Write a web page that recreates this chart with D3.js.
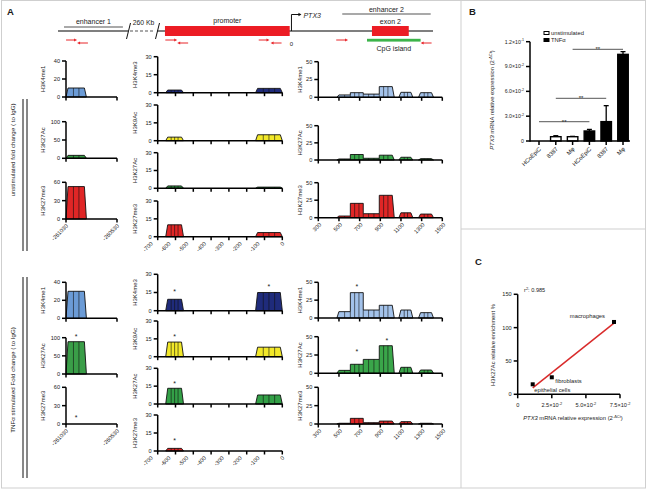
<!DOCTYPE html>
<html><head><meta charset="utf-8">
<script src="https://cdn.jsdelivr.net/npm/d3@7"></script>
<style>
body{margin:0;background:#fff}
svg{display:block}
text{font-family:"Liberation Sans",Arial,sans-serif;fill:#1a1a1a}
</style>
</head><body>
<svg id="chart" width="647" height="489"></svg>
<script>
// ================= DATA =================
const marksCol1 = ["H3K4me1","H3K27Ac","H3K27me3"];
const marksCol2 = ["H3K4me3","H3K9Ac","H3K27Ac","H3K27me3"];
const marksCol3 = ["H3K4me1","H3K27Ac","H3K27me3"];

const col1Groups = [[-261030,-260830]];
const col1Cells  = [3];
const col2Groups = [[-655,-555],[-150,0]];
const col2Cells  = [4,4];
const col3Groups = [[480,610,735,890,1035],[1080,1215],[1270,1415]];
const col3Cells  = [2,3,3,3,3,3];

const col1XTicks = [-261030,-260530];
const col2XTicks = [-700,-600,-500,-400,-300,-200,-100,0];
const col3XTicks = [300,500,700,900,1100,1300,1500];

const col1YTicks = [[0,20,40],[0,50,100],[0,30,60]];
const col2YTicks = [0,15,30];
const col3YTicks = [0,25,50];

const unstimCol1 = [[10],[8],[53]];
const unstimCol2 = [[2.2,3.6],[3,5],[2,1],[10,3.5]];
const unstimCol3 = [[3.3,6.5,4.5,15,7,6.5],[1.5,8,2.5,7,4,2],[2.4,20.5,5.7,32,7,5.2]];
const tnfCol1 = [[30],[89],[0]];
const tnfCol2 = [[9.4,15],[12.3,8],[13.2,7.6],[2.2,0]];
const tnfCol3 = [[8.9,35.5,11.2,17.8,11.2,7.5],[4,12.3,19,37.7,8.2,4.5],[1,7.7,1.8,4,3.2,1]];

const tnfStarsCol1 = [[1,0,107],[2,0,13]];
const tnfStarsCol2 = [[0,0,17],[0,1,21],[1,0,17.4],[2,0,17.9],[3,0,9.8]];
const tnfStarsCol3 = [[0,1,46],[1,1,31.8],[1,3,46]];

const locusLeft = [-261140,-260740];
const locusRight = [-760,800];
const enhancer1Region = [-261106,-260769];
const enhancer2Region = [287,787];
const promoterRegion = [-715,-10];
const exon2Region = [455,663];
const cpgIsland = [427,730];
const primersForward = [[-261094,-261031],[-713,-646],[-185,-124],[253,320]];
const primersReverse = [[-261031,-260969],[-646,-584],[-118,-56],[730,792]];

const bCategories = ["HCoEpiC","8387","Mφ","HCoEpiC","8387","Mφ"];
const bCondition  = ["unstimulated","unstimulated","unstimulated","TNFα","TNFα","TNFα"];
const bValues     = [0,0.0052,0.0052,0.0121,0.0234,0.1047];
const bErrors     = [0,0.0012,0.0004,0.0019,0.0193,0.0033];
const bYTicks     = [0,0.03,0.06,0.09,0.12];
const bYTickLabels= [["0",""],["3.0×10","-2"],["6.0×10","-2"],["9.0×10","-2"],["1.2×10","-1"]];
const bSignif     = [[0,3,0.0233],[1,4,0.0516],[2,5,0.1108]];

const cLabels = ["epithelial cells","fibroblasts","macrophages"];
const cX = [0.011,0.025,0.0706];
const cY = [15,25.5,108.5];
const cXTicks = [0,0.025,0.05,0.075];
const cXTickLabels = [["0",""],["2.5×10","-2"],["5.0×10","-2"],["7.5×10","-2"]];
const cYTicks = [0,50,100,150];

// ================= LAYOUT =================
const svg = d3.select("#chart");
const FS = 5.6;
const colLayout = [
  {range:[66,117], domain:[-261030,-260530], titleX:43, ticks:col1XTicks, groups:col1Groups, cells:col1Cells, marks:marksCol1,
   colors:["#6b9bd6","#3a9e48","#e02626"], labelDx:1},
  {range:[157.7,282.3], domain:[-700,0], titleX:135, ticks:col2XTicks, groups:col2Groups, cells:col2Cells, marks:marksCol2,
   colors:["#1f2b7b","#f2e829","#33a047","#e02626"], labelDx:-6},
  {range:[318.3,442.3], domain:[300,1500], titleX:300, ticks:col3XTicks, groups:col3Groups, cells:col3Cells, marks:marksCol3,
   colors:["#a3c2ea","#3aa64a","#e02626"], labelDx:2}
];
const rowsUnstim = [
  [[61,97],[121.7,158.3],[182.3,219]],
  [[56.7,92.7],[105,140.7],[152.7,188.3],[201,236.7]],
  [[61.7,97.3],[125.7,160],[182.7,217.7]]
];
const rowsTnf = [
  [[282.3,318.3],[337.7,374],[387.3,424]],
  [[274.3,310.7],[321,356.7],[368.3,404],[415,451]],
  [[282.3,318],[336.7,373.3],[387.3,424]]
];

svg.append("rect").attr("x",1.5).attr("y",0.5).attr("width",644).attr("height",487.5)
  .attr("fill","none").attr("stroke","#cfcfcf");
svg.append("line").attr("x1",461).attr("x2",461).attr("y1",0).attr("y2",488).attr("stroke","#cfcfcf");
svg.append("line").attr("x1",461).attr("x2",646).attr("y1",229).attr("y2",229).attr("stroke","#cfcfcf");

function panelLetter(t,x,y){
  svg.append("text").attr("x",x).attr("y",y).attr("font-size",9.5).attr("font-weight","bold").text(t);
}
panelLetter("A",7,15); panelLetter("B",469,15); panelLetter("C",475,265);

const sx = d3.scaleLinear().domain([locusLeft[0],locusLeft[1],locusRight[0],locusRight[1]]).range([58,128,157,433]);
const sch = svg.append("g");
const lineCol = "#555";
sch.append("line").attr("x1",sx(locusLeft[0])).attr("x2",sx(locusLeft[1])).attr("y1",31).attr("y2",31).attr("stroke",lineCol).attr("stroke-width",1.3);
sch.append("line").attr("x1",sx(locusLeft[1])+2).attr("x2",sx(locusRight[0])-2).attr("y1",31).attr("y2",31).attr("stroke",lineCol).attr("stroke-width",1.1).attr("stroke-dasharray","3,2");
sch.append("line").attr("x1",sx(locusRight[0])).attr("x2",sx(locusRight[1])).attr("y1",31).attr("y2",31).attr("stroke",lineCol).attr("stroke-width",1.3);
[locusLeft[1],locusRight[0]].forEach(v=>{
  sch.append("line").attr("x1",sx(v)-1.5).attr("y1",39).attr("x2",sx(v)+2.5).attr("y2",23).attr("stroke","#111").attr("stroke-width",1);
});
sch.append("text").attr("x",(sx(locusLeft[1])+sx(locusRight[0]))/2+1).attr("y",24.5).attr("font-size",6.8).attr("text-anchor","middle").text("260 Kb");
sch.append("line").attr("x1",sx(enhancer1Region[0])).attr("x2",sx(enhancer1Region[1])).attr("y1",27).attr("y2",27).attr("stroke","#555").attr("stroke-width",1.2);
sch.append("text").attr("x",(sx(enhancer1Region[0])+sx(enhancer1Region[1]))/2).attr("y",24).attr("font-size",7).attr("text-anchor","middle").text("enhancer 1");
sch.append("line").attr("x1",sx(enhancer2Region[0])).attr("x2",sx(enhancer2Region[1])).attr("y1",14).attr("y2",14).attr("stroke","#555").attr("stroke-width",1.2);
sch.append("text").attr("x",(sx(enhancer2Region[0])+sx(enhancer2Region[1]))/2).attr("y",11.5).attr("font-size",7).attr("text-anchor","middle").text("enhancer 2");
sch.append("rect").attr("x",sx(promoterRegion[0])).attr("width",sx(promoterRegion[1])-sx(promoterRegion[0])).attr("y",26).attr("height",10).attr("fill","#ec1c24");
sch.append("text").attr("x",(sx(promoterRegion[0])+sx(promoterRegion[1]))/2).attr("y",22.5).attr("font-size",7).attr("text-anchor","middle").text("promoter");
sch.append("rect").attr("x",sx(exon2Region[0])).attr("width",sx(exon2Region[1])-sx(exon2Region[0])).attr("y",26).attr("height",10).attr("fill","#ec1c24");
sch.append("text").attr("x",(sx(exon2Region[0])+sx(exon2Region[1]))/2).attr("y",23.5).attr("font-size",7).attr("text-anchor","middle").text("exon 2");
sch.append("rect").attr("x",sx(cpgIsland[0])).attr("width",sx(cpgIsland[1])-sx(cpgIsland[0])).attr("y",38.8).attr("height",2.8).attr("fill","#3cb44a");
sch.append("text").attr("x",(sx(cpgIsland[0])+sx(cpgIsland[1]))/2).attr("y",51).attr("font-size",7).attr("text-anchor","middle").text("CpG island");
const tss = sx(0);
sch.append("path").attr("d",`M${tss},31 V14.5 H${tss+8}`).attr("fill","none").attr("stroke","#111").attr("stroke-width",1);
sch.append("path").attr("d",`M${tss+10},14.5 l-3,-1.8 v3.6 z`).attr("fill","#111");
sch.append("text").attr("x",tss+12).attr("y",17.5).attr("font-size",7).attr("font-style","italic").text("PTX3");
sch.append("text").attr("x",tss).attr("y",45.5).attr("font-size",6).attr("text-anchor","middle").text("0");
const red = "#e8262b";
primersForward.forEach(p=>{
  const a=sx(p[0]), b=sx(p[1]);
  sch.append("line").attr("x1",a).attr("x2",b-2).attr("y1",40).attr("y2",40).attr("stroke",red).attr("stroke-width",1);
  sch.append("path").attr("d",`M${b},40 l-3,-1.6 v3.2 z`).attr("fill",red);
});
primersReverse.forEach(p=>{
  const a=sx(p[0]), b=sx(p[1]);
  sch.append("line").attr("x1",a+2).attr("x2",b).attr("y1",43).attr("y2",43).attr("stroke",red).attr("stroke-width",1);
  sch.append("path").attr("d",`M${a},43 l3,-1.6 v3.2 z`).attr("fill",red);
});

function drawPanel(g, col, yr, yTicks, vals, color, title, showLabels, stars, panelIdx){
  const x = d3.scaleLinear().domain(col.domain).range(col.range);
  const y = d3.scaleLinear().domain([0, yTicks[yTicks.length-1]]).range([yr[1], yr[0]]);
  const slant = 2;
  let k = 0;
  const segCenters = [];
  col.groups.forEach(bounds=>{
    const segs=[];
    for(let i=0;i<bounds.length-1;i++){ segs.push({x0:bounds[i],x1:bounds[i+1],v:vals[k],n:col.cells[k]}); segCenters.push((bounds[i]+bounds[i+1])/2); k++; }
    if(d3.max(segs,s=>s.v)<=0) return;
    const pts=[[x(segs[0].x0),y(0)],[x(segs[0].x0)+slant,y(segs[0].v)]];
    segs.forEach((s,i)=>{
      if(i>0) pts.push([x(s.x0),y(s.v)]);
      pts.push([i===segs.length-1 ? x(s.x1)-slant : x(s.x1), y(s.v)]);
    });
    pts.push([x(segs[segs.length-1].x1),y(0)]);
    g.append("path").attr("d",d3.line()(pts)+"Z").attr("fill",color).attr("stroke","#111").attr("stroke-width",0.9).attr("stroke-linejoin","round");
    segs.forEach((s,i)=>{
      const a = i===0 ? x(s.x0)+slant : x(s.x0);
      const b = i===segs.length-1 ? x(s.x1)-slant : x(s.x1);
      for(let j=1;j<s.n;j++){
        const xx = a+(b-a)*j/s.n;
        g.append("line").attr("x1",xx).attr("x2",xx).attr("y1",y(0)).attr("y2",y(s.v)).attr("stroke","#111").attr("stroke-width",0.6);
      }
      if(i>0){
        const xx=x(s.x0);
        g.append("line").attr("x1",xx).attr("x2",xx).attr("y1",y(0)).attr("y2",y(Math.min(s.v,segs[i-1].v))).attr("stroke","#111").attr("stroke-width",0.6);
      }
    });
  });
  const ax = g.append("g").attr("stroke","#000").attr("stroke-width",1.5).attr("fill","none");
  ax.append("line").attr("x1",col.range[0]).attr("x2",col.range[0]).attr("y1",y(0)+0.75).attr("y2",y.range()[1]);
  ax.append("line").attr("x1",col.range[0]).attr("x2",col.range[1]).attr("y1",y(0)).attr("y2",y(0));
  yTicks.forEach(t=>{
    ax.append("line").attr("x1",col.range[0]-4).attr("x2",col.range[0]).attr("y1",y(t)).attr("y2",y(t));
    g.append("text").attr("x",col.range[0]-6).attr("y",y(t)).attr("dy","0.35em").attr("text-anchor","end").attr("font-size",FS).text(t);
  });
  col.ticks.forEach(t=>{
    ax.append("line").attr("x1",x(t)).attr("x2",x(t)).attr("y1",y(0)).attr("y2",y(0)+3.5);
    if(showLabels){
      g.append("text").attr("transform",`translate(${x(t)+(t===0?1:col.labelDx)},${y(0)+6}) rotate(-45)`)
        .attr("text-anchor","end").attr("dy","0.35em").attr("font-size",FS).text(t);
    }
  });
  g.append("text").attr("transform",`translate(${col.titleX},${(yr[0]+yr[1])/2}) rotate(-90)`)
    .attr("text-anchor","middle").attr("dy","0.35em").attr("font-size",6).text(title);
  (stars||[]).filter(s=>s[0]===panelIdx).forEach(s=>{
    g.append("text").attr("x",x(segCenters[s[1]])).attr("y",y(s[2])+3.5).attr("text-anchor","middle").attr("font-size",7).text("*");
  });
}

function drawBlock(rows, dataCols, starsCols){
  colLayout.forEach((col,ci)=>{
    const g = svg.append("g");
    col.marks.forEach((m,pi)=>{
      const yt = ci===0 ? col1YTicks[pi] : (ci===1 ? col2YTicks : col3YTicks);
      drawPanel(g, col, rows[ci][pi], yt, dataCols[ci][pi], col.colors[pi], m, pi===col.marks.length-1, starsCols[ci], pi);
    });
  });
}
drawBlock(rowsUnstim, [unstimCol1, unstimCol2, unstimCol3], [[],[],[]]);
drawBlock(rowsTnf, [tnfCol1, tnfCol2, tnfCol3], [tnfStarsCol1, tnfStarsCol2, tnfStarsCol3]);

function rowLabel(text, y0, y1, cy){
  svg.append("line").attr("x1",23).attr("x2",23).attr("y1",y0).attr("y2",y1).attr("stroke","#111").attr("stroke-width",1);
  svg.append("line").attr("x1",27).attr("x2",27).attr("y1",y0).attr("y2",y1).attr("stroke","#111").attr("stroke-width",1);
  svg.append("text").attr("transform",`translate(13,${cy}) rotate(-90)`).attr("text-anchor","middle").attr("dy","0.35em").attr("font-size",6.2).text(text);
}
rowLabel("unstimulated fold change ( to IgG)", 99, 251, 150);
rowLabel("TNFα stimulated Fold change ( to IgG)", 277, 478, 380);

function supLabel(sel, parts, size){
  sel.text(null);
  sel.append("tspan").text(parts[0]);
  if(parts[1]) sel.append("tspan").attr("dy",-2.2).attr("font-size",size*0.7).text(parts[1]);
}
const gB = svg.append("g");
const bx = d3.scalePoint().domain(d3.range(bCategories.length)).range([539,623]);
const by = d3.scaleLinear().domain([0,0.12]).range([141,41.7]);
const bw = 10.5;
bValues.forEach((v,i)=>{
  if(v<=0) return;
  const tnf = bCondition[i]==="TNFα";
  const top = by(v+bErrors[i]);
  gB.append("line").attr("x1",bx(i)).attr("x2",bx(i)).attr("y1",by(v)).attr("y2",top).attr("stroke","#000").attr("stroke-width",1.3);
  gB.append("line").attr("x1",bx(i)-2.5).attr("x2",bx(i)+2.5).attr("y1",top).attr("y2",top).attr("stroke","#000").attr("stroke-width",1.3);
  gB.append("rect").attr("x",bx(i)-bw/2).attr("width",bw).attr("y",by(v)).attr("height",by(0)-by(v))
    .attr("fill",tnf?"#000":"#fff").attr("stroke","#000").attr("stroke-width",1.4);
});
const bax = gB.append("g").attr("stroke","#000").attr("stroke-width",1.5);
bax.append("line").attr("x1",530).attr("x2",530).attr("y1",by(0)+0.75).attr("y2",by(0.12));
bax.append("line").attr("x1",530).attr("x2",bx(5)+7).attr("y1",by(0)).attr("y2",by(0));
bYTicks.forEach((t,i)=>{
  bax.append("line").attr("x1",526).attr("x2",530).attr("y1",by(t)).attr("y2",by(t));
  const tx = gB.append("text").attr("x",524).attr("y",by(t)).attr("dy","0.35em").attr("text-anchor","end").attr("font-size",5.2);
  supLabel(tx, bYTickLabels[i], 5.2);
});
bCategories.forEach((c,i)=>{
  bax.append("line").attr("x1",bx(i)).attr("x2",bx(i)).attr("y1",by(0)).attr("y2",by(0)+4);
  gB.append("text").attr("transform",`translate(${bx(i)+1},${by(0)+7}) rotate(-45)`).attr("text-anchor","end").attr("dy","0.35em").attr("font-size",5.8).text(c);
});
bSignif.forEach(s=>{
  gB.append("line").attr("x1",bx(s[0])).attr("x2",bx(s[1])).attr("y1",by(s[2])).attr("y2",by(s[2])).attr("stroke","#777").attr("stroke-width",1.2);
  gB.append("text").attr("x",(bx(s[0])+bx(s[1]))/2).attr("y",by(s[2])+2).attr("text-anchor","middle").attr("font-size",6).text("**");
});
gB.append("rect").attr("x",544).attr("y",31.5).attr("width",5).attr("height",3).attr("fill","#fff").attr("stroke","#000").attr("stroke-width",1);
gB.append("text").attr("x",551).attr("y",33).attr("dy","0.35em").attr("font-size",5.8).text("unstimulated");
gB.append("rect").attr("x",544).attr("y",38.5).attr("width",5).attr("height",3).attr("fill","#000").attr("stroke","#000").attr("stroke-width",1);
gB.append("text").attr("x",551).attr("y",40).attr("dy","0.35em").attr("font-size",5.8).text("TNFα");
{
  const t = gB.append("text").attr("transform","translate(492,100) rotate(-90)").attr("text-anchor","middle").attr("dy","0.35em").attr("font-size",5.8);
  t.append("tspan").attr("font-style","italic").text("PTX3");
  t.append("tspan").text(" mRNA relative expression  (2");
  t.append("tspan").attr("dy",-2).attr("font-size",4).text("-ΔCt");
  t.append("tspan").attr("dy",2).text(")");
}

const gC = svg.append("g");
const cx = d3.scaleLinear().domain([0,0.075]).range([517.7,620]);
const cy = d3.scaleLinear().domain([0,150]).range([394.3,294.3]);
const mx = d3.mean(cX), my = d3.mean(cY);
const slope = d3.sum(cX.map((v,i)=>(v-mx)*(cY[i]-my)))/d3.sum(cX.map(v=>(v-mx)*(v-mx)));
const icpt = my - slope*mx;
const xmin = d3.min(cX), xmax = d3.max(cX);
gC.append("line").attr("x1",cx(xmin)).attr("y1",cy(icpt+slope*xmin)).attr("x2",cx(xmax)).attr("y2",cy(icpt+slope*xmax))
  .attr("stroke","#d92b2b").attr("stroke-width",1.5);
const cax = gC.append("g").attr("stroke","#000").attr("stroke-width",1.5);
cax.append("line").attr("x1",cx(0)).attr("x2",cx(0)).attr("y1",cy(0)+0.75).attr("y2",cy(150));
cax.append("line").attr("x1",cx(0)).attr("x2",cx(0.075)).attr("y1",cy(0)).attr("y2",cy(0));
cYTicks.forEach(t=>{
  cax.append("line").attr("x1",cx(0)-4).attr("x2",cx(0)).attr("y1",cy(t)).attr("y2",cy(t));
  gC.append("text").attr("x",cx(0)-6).attr("y",cy(t)).attr("dy","0.35em").attr("text-anchor","end").attr("font-size",5.6).text(t);
});
cXTicks.forEach((t,i)=>{
  cax.append("line").attr("x1",cx(t)).attr("x2",cx(t)).attr("y1",cy(0)).attr("y2",cy(0)+4);
  const tx = gC.append("text").attr("x",cx(t)).attr("y",cy(0)+13).attr("text-anchor","middle").attr("font-size",5.6);
  supLabel(tx, cXTickLabels[i], 5.6);
});
const labelOffsets = [[1.5,7.5,"start"],[3.5,6,"start"],[-9,-3.5,"end"]];
cX.forEach((v,i)=>{
  gC.append("rect").attr("x",cx(v)-2).attr("y",cy(cY[i])-2).attr("width",4).attr("height",4).attr("fill","#000");
  gC.append("text").attr("x",cx(v)+labelOffsets[i][0]).attr("y",cy(cY[i])+labelOffsets[i][1]).attr("text-anchor",labelOffsets[i][2]).attr("font-size",5.8).text(cLabels[i]);
});
{
  const t = gC.append("text").attr("x",524).attr("y",292).attr("font-size",5.6).attr("fill","#333");
  t.append("tspan").text("r");
  t.append("tspan").attr("dy",-2).attr("font-size",4).text("2");
  t.append("tspan").attr("dy",2).text(": 0.985");
  gC.append("text").attr("transform","translate(493,345) rotate(-90)").attr("text-anchor","middle").attr("dy","0.35em").attr("font-size",5.8)
    .text("H3K27Ac relative enrichment %");
  const xt = gC.append("text").attr("x",573).attr("y",420).attr("text-anchor","middle").attr("font-size",5.8);
  xt.append("tspan").attr("font-style","italic").text("PTX3");
  xt.append("tspan").text(" mRNA relative expression  (2");
  xt.append("tspan").attr("dy",-2).attr("font-size",4).text("-ΔCt");
  xt.append("tspan").attr("dy",2).text(")");
}
</script>
</body></html>
